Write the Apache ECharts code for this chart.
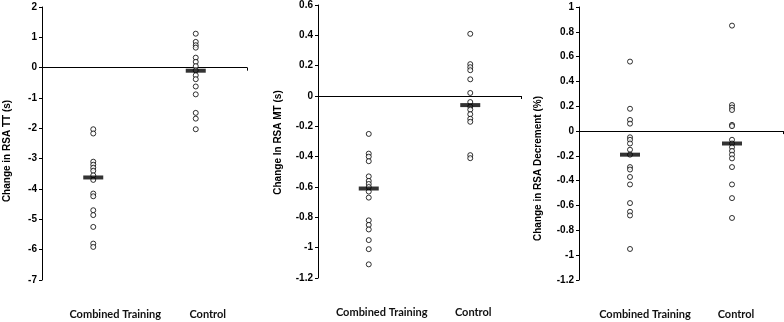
<!DOCTYPE html>
<html>
<head>
<meta charset="utf-8">
<script src="https://cdn.jsdelivr.net/npm/echarts@6/dist/echarts.min.js"></script>
<style>
  html, body { margin: 0; padding: 0; background: #fff; }
  #chart { width: 784px; height: 322px; }
</style>
</head>
<body>
<div id="chart"></div>
<script>
(function () {
    "use strict";
    var groups = ['Combined Training', 'Control'];

    // panel 1: change in RSA TT (s)
    var ttCombined = [-2.03, -2.17, -3.1, -3.2, -3.3, -3.4, -3.55, -3.7, -4.15, -4.24, -4.7, -4.86, -5.25, -5.8, -5.91];
    var ttControl = [1.12, 0.85, 0.74, 0.66, 0.33, 0.19, 0.05, -0.09, -0.25, -0.38, -0.62, -0.88, -1.49, -1.68, -2.03];
    var ttMeans = [-3.62, -0.1];

    // panel 2: change in RSA MT (s)
    var mtCombined = [-0.25, -0.38, -0.4, -0.43, -0.53, -0.56, -0.58, -0.6, -0.63, -0.67, -0.82, -0.85, -0.88, -0.95, -1.01, -1.11];
    var mtControl = [0.41, 0.21, 0.19, 0.17, 0.11, 0.02, -0.04, -0.07, -0.09, -0.12, -0.15, -0.17, -0.39, -0.41];
    var mtMeans = [-0.61, -0.06];

    // panel 3: change in RSA decrement (%)
    var decCombined = [0.56, 0.18, 0.09, 0.06, -0.05, -0.07, -0.1, -0.15, -0.19, -0.29, -0.31, -0.37, -0.43, -0.58, -0.65, -0.68, -0.95];
    var decControl = [0.85, 0.21, 0.19, 0.17, 0.05, 0.04, -0.07, -0.1, -0.13, -0.16, -0.19, -0.22, -0.29, -0.43, -0.54, -0.7];
    var decMeans = [-0.19, -0.1];

    var yNames = ['Change in RSA TT (s)', 'Change In RSA MT (s)', 'Change in RSA Decrement (%)'];
    var yMin = [-7, -1.2, -1.2];
    var yMax = [2, 0.6, 1];
    var yStep = [1, 0.2, 0.2];

    var panels = [
        { pts: [ttCombined, ttControl], means: ttMeans },
        { pts: [mtCombined, mtControl], means: mtMeans },
        { pts: [decCombined, decControl], means: decMeans }
    ];

    var grids = [
        { left: 42, top: 7, width: 205, height: 273 },
        { left: 318, top: 5, width: 203, height: 273 },
        { left: 579, top: 7, width: 204, height: 273 }
    ];
    var nameGap = [30, 35, 36];
    var nameShift = [15, 2, 50];
    var labelShift = [[44, 24], [26, 6], [30, 8]];

    var black = '#000';
    var font = '"Liberation Sans", Arial, sans-serif';
    var xAxes = [], yAxes = [], series = [];

    panels.forEach(function (p, i) {
        // zero line axis
        xAxes.push({
            type: 'category',
            gridIndex: i,
            data: groups,
            axisLine: { onZero: true, lineStyle: { color: black, width: 1 } },
            axisTick: { show: true, inside: false, length: 3, lineStyle: { color: black } },
            axisLabel: { show: false },
            splitLine: { show: false }
        });
        // bottom labels axis
        xAxes.push({
            type: 'category',
            gridIndex: i,
            position: 'bottom',
            data: groups.map(function (g, k) {
                return { value: g, textStyle: { padding: [0, 0, 0, labelShift[i][k]] } };
            }),
            axisLine: { show: false, onZero: false },
            axisTick: { show: false },
            axisLabel: {
                interval: 0,
                hideOverlap: false,
                margin: 29,
                fontFamily: 'Lato',
                fontWeight: 'bold',
                fontSize: 11,
                color: '#111'
            }
        });
        yAxes.push({
            type: 'value',
            gridIndex: i,
            min: yMin[i],
            max: yMax[i],
            interval: yStep[i],
            name: yNames[i],
            nameLocation: 'middle',
            nameGap: nameGap[i],
            nameTextStyle: {
                fontFamily: font,
                fontWeight: 700,
                fontSize: 10,
                color: '#000',
                padding: [0, nameShift[i], 0, 0]
            },
            axisLine: { show: true, lineStyle: { color: black, width: 1 } },
            axisTick: { show: true, length: 3, lineStyle: { color: black } },
            axisLabel: {
                margin: 5,
                fontFamily: font,
                fontWeight: 700,
                fontSize: 10,
                color: '#000'
            },
            splitLine: { show: false }
        });

        p.pts.forEach(function (vals, k) {
            series.push({
                type: 'scatter',
                xAxisIndex: i * 2,
                yAxisIndex: i,
                symbol: 'circle',
                symbolSize: 5,
                itemStyle: { color: '#fff', borderColor: black, borderWidth: 1 },
                data: vals.map(function (v) { return [k, v]; }),
                z: 3
            });
        });
        series.push({
            type: 'scatter',
            xAxisIndex: i * 2,
            yAxisIndex: i,
            symbol: 'rect',
            symbolSize: [20, 4],
            itemStyle: { color: black },
            data: p.means.map(function (v, k) { return [k, v]; }),
            z: 4
        });
    });

    var option = {
        animation: false,
        backgroundColor: '#fff',
        grid: grids,
        xAxis: xAxes,
        yAxis: yAxes,
        series: series
    };

    var chart = echarts.init(document.getElementById('chart'));
    chart.setOption(option);
})();
</script>
</body>
</html>
